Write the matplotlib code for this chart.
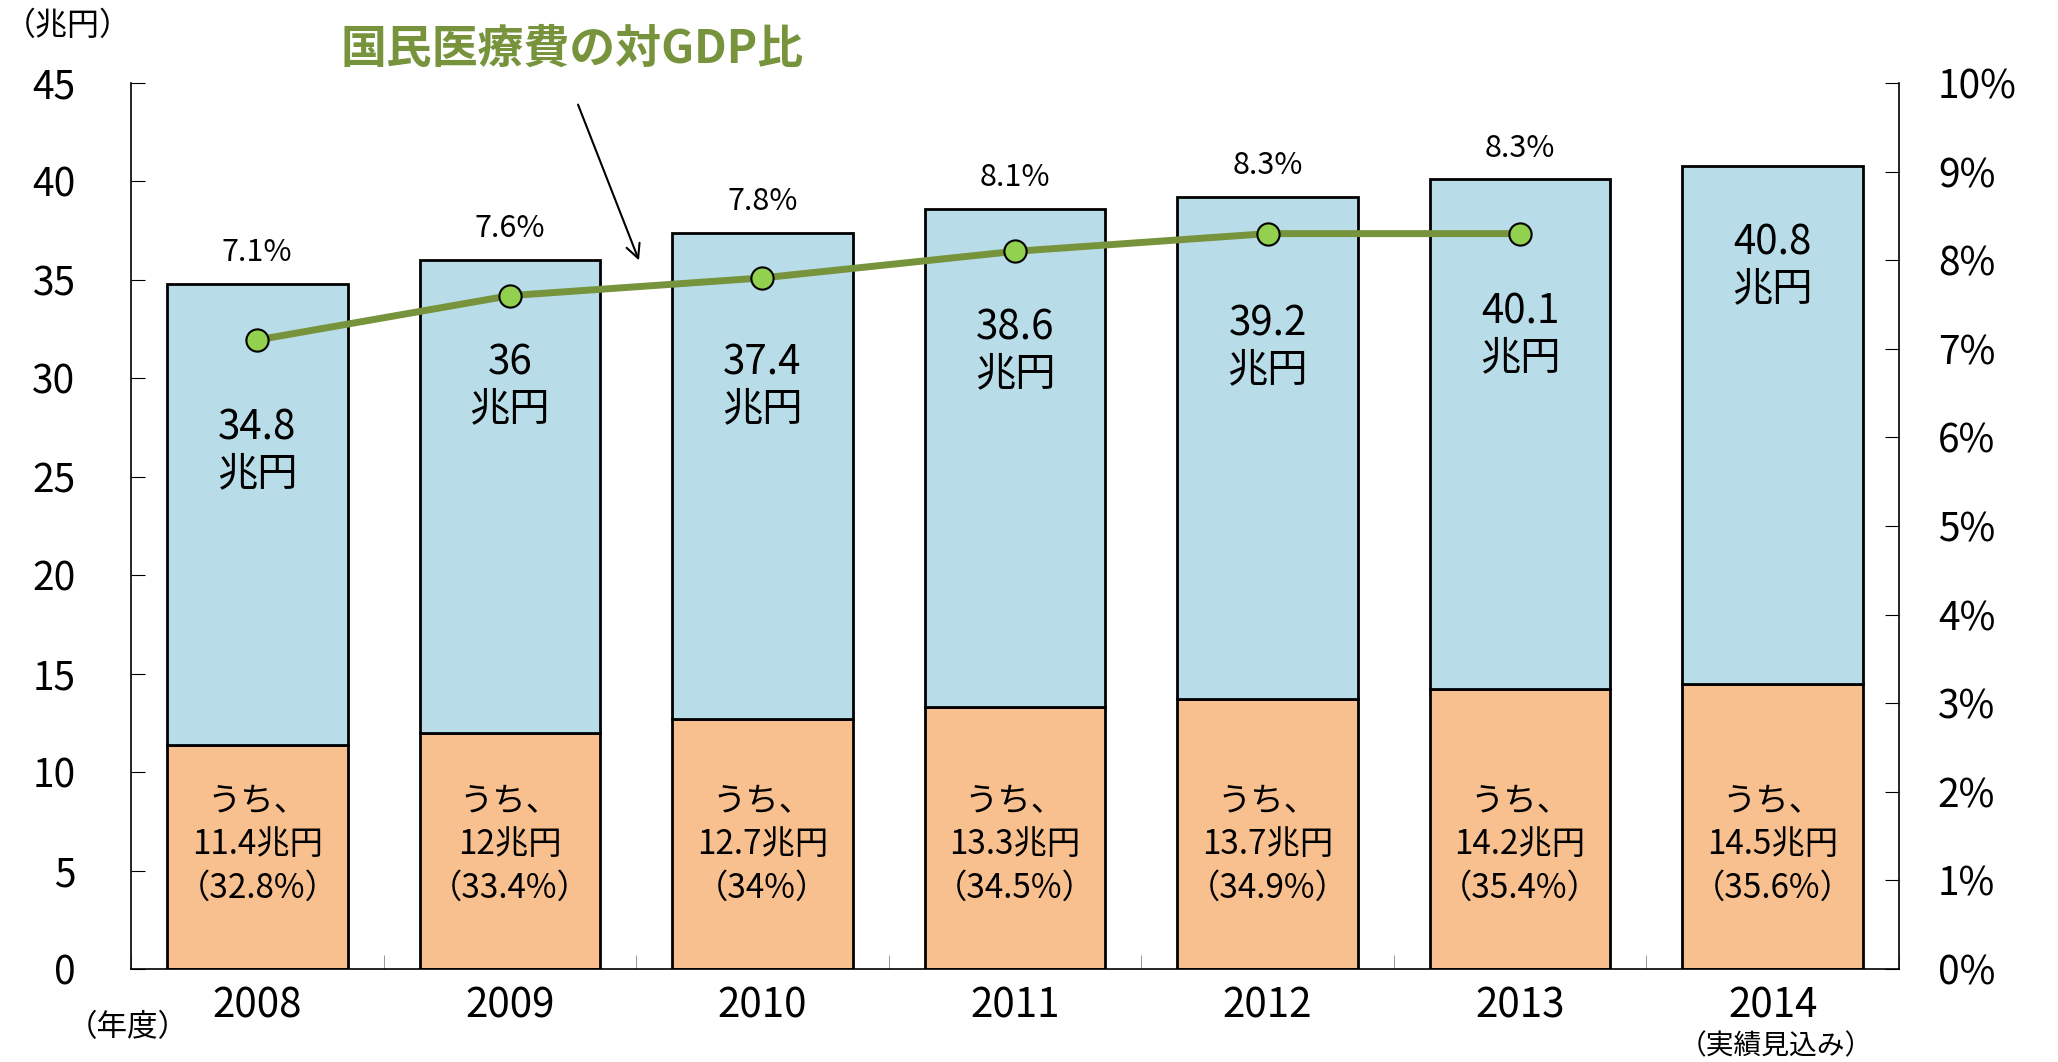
import matplotlib
matplotlib.use("Agg")
import matplotlib.pyplot as plt
import numpy as np

plt.rcParams['font.family'] = ['Noto Sans CJK JP', 'DejaVu Sans']

years = ["2008", "2009", "2010", "2011", "2012", "2013", "2014"]
total = [34.8, 36, 37.4, 38.6, 39.2, 40.1, 40.8]
part = [11.4, 12, 12.7, 13.3, 13.7, 14.2, 14.5]
part_pct = [32.8, 33.4, 34, 34.5, 34.9, 35.4, 35.6]
gdp_ratio = [7.1, 7.6, 7.8, 8.1, 8.3, 8.3]

# vertical position of the big label inside each blue bar
label_y = [26.3, 29.6, 29.6, 31.4, 31.6, 32.2, 35.7]

W, H = 2058, 1062
fig = plt.figure(figsize=(W / 100, H / 100), dpi=100)
ax = fig.add_axes([131 / W, 1 - 969 / H, (1899 - 131) / W, (969 - 83) / H])

x = np.arange(len(years))
rest = [t - p for t, p in zip(total, part)]
ax.bar(x, part, width=0.715, color="#F9C08F", edgecolor="black", linewidth=2, zorder=2)
ax.bar(x, rest, bottom=part, width=0.715, color="#B8DDE8", edgecolor="black", linewidth=2, zorder=2)

ax.set_xlim(-0.5, len(years) - 0.5)
ax.set_ylim(0, 45)
ax.set_yticks(range(0, 46, 5))
ax.set_xticks(x)
ax.set_xticklabels(years)
ax.set_xticks(np.arange(-0.5, len(years), 1), minor=True)
ax.tick_params(axis="x", which="major", length=0, labelsize=29, pad=12)
ax.tick_params(axis="x", which="minor", length=10, direction="in", color="#888888")
ax.tick_params(axis="y", direction="in", length=10, labelsize=28, pad=40)
ax.spines["top"].set_visible(False)
ax.spines["right"].set_visible(False)
for s in ["left", "bottom"]:
    ax.spines[s].set_linewidth(1.2)

for i in range(len(years)):
    ax.text(x[i], label_y[i], f"{total[i]:g}\n兆円", ha="center", va="center",
            fontsize=29, linespacing=1.15, zorder=4)
    ax.text(x[i], 6.3, f"うち、\n{part[i]:g}兆円\n（{part_pct[i]:g}%）", ha="center", va="center",
            fontsize=24, linespacing=1.3, zorder=4)

for i, v in enumerate(gdp_ratio):
    ax.text(x[i], total[i] + 0.8, f"{v:g}%", ha="center", va="bottom", fontsize=22, zorder=4)

ax2 = ax.twinx()
ax2.set_ylim(0, 10)
ax2.set_yticks(range(0, 11))
ax2.set_yticklabels([f"{v}%" for v in range(0, 11)])
ax2.tick_params(axis="y", direction="in", length=10, labelsize=28, pad=28)
ax2.spines["top"].set_visible(False)
ax2.spines["left"].set_visible(False)
ax2.spines["bottom"].set_visible(False)
ax2.spines["right"].set_linewidth(1.2)
ax2.plot(x[:len(gdp_ratio)], gdp_ratio, color="#77933C", linewidth=5, marker="o",
         markersize=16, markerfacecolor="#92D050", markeredgecolor="black",
         markeredgewidth=1.5, zorder=5)

fig.text(572 / W, 1 - 50 / H, "国民医療費の対GDP比", color="#77933C", fontsize=33,
         fontweight="bold", ha="center", va="center")
fig.patches.append(matplotlib.patches.FancyArrowPatch(
    (577 / W, 1 - 102 / H), (640 / W, 1 - 263 / H), transform=fig.transFigure,
    arrowstyle="->", mutation_scale=25, linewidth=1.5, color="black"))

fig.text(4 / W, 1 - 26 / H, "（兆円）", fontsize=23, ha="left", va="center")
fig.text(128 / W, 1 - 1028 / H, "（年度）", fontsize=22, ha="center", va="center")
fig.text(1776 / W, 1 - 1046 / H, "（実績見込み）", fontsize=20, ha="center", va="center")

fig.savefig("out.png", dpi=100)
